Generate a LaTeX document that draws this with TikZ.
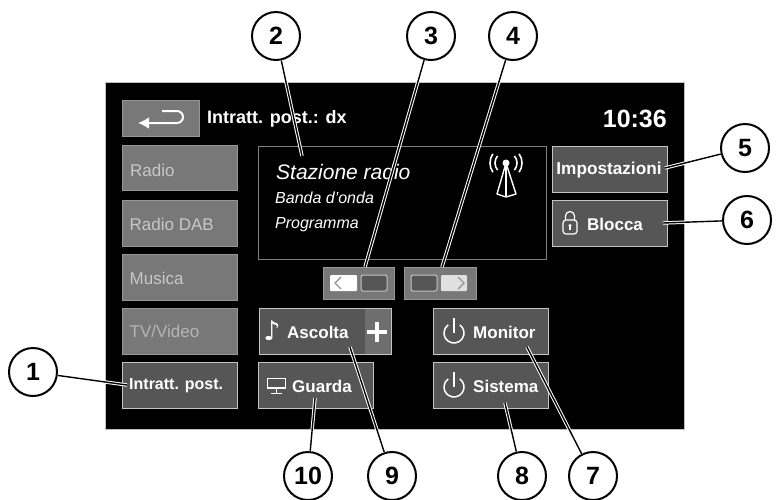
\documentclass[tikz,border=0pt]{standalone}
\usetikzlibrary{arrows.meta}
\usepackage{fontspec}
\setmainfont{Liberation Sans}
\newfontfamily\dejavu{DejaVu Sans}
\definecolor{dimbtn}{HTML}{787878}
\definecolor{dimedge}{HTML}{979797}
\definecolor{activebtn}{HTML}{565656}
\definecolor{activeedge}{HTML}{C4C4C4}
\definecolor{dimtext}{HTML}{C8C8C8}
\newcommand{\fs}[1]{\fontsize{#1}{#1}\selectfont}
\tikzset{
  dimbox/.style={draw=dimedge,fill=dimbtn,line width=1pt,inner sep=0pt,outer sep=0pt},
  activebox/.style={draw=activeedge,fill=activebtn,line width=1pt,inner sep=0pt,outer sep=0pt},
  dimlabel/.style={anchor=west,inner sep=0pt,text=dimtext,font=\fs{17}},
  boldlabel/.style={anchor=west,inner sep=0pt,text=white,font=\fs{17}\bfseries},
  infolabel/.style={anchor=west,inner sep=0pt,text=white,font=\fs{16}\itshape},
  iconline/.style={draw=white,line width=1.2pt},
  leader/.style={draw=white,line width=1pt,double=black,double distance=1.4pt},
  callout/.style={circle,draw=black,fill=white,line width=2pt,minimum size=48pt,inner sep=0pt,font=\fs{25}\bfseries,text=black}
}
\newcommand{\btn}[6]{\node[#6,minimum width=#4pt-#2pt,minimum height=#5pt-#3pt] (#1) at ({(#2+#4)/2},{(#3+#5)/2}) {};}
\begin{document}
\begin{tikzpicture}[x=1pt,y=-1pt]
\useasboundingbox (0,0) rectangle (776,499);
\fill[white] (0,0) rectangle (776,499);
\node[draw=black!25,fill=black,line width=.8pt,inner sep=0pt,outer sep=0pt,minimum width=579pt,minimum height=347pt] (panel) at (394.5,255.5) {};
% top bar
\btn{back}{122}{100}{199}{136}{dimbox}
\draw[iconline,line width=2pt,-{Latex[length=11pt,width=12pt]}] (162,111) -- (177,111) arc[start angle=90,end angle=-90,radius=6pt] -- (138,123);
\node[anchor=west,inner sep=0pt,text=white,font=\fs{18}\bfseries] (title) at (207,118.5) {Intratt. post.: dx};
\node[anchor=east,inner sep=0pt,text=white,font=\fs{25}\bfseries] (clock) at (667,118.5) {10:36};
% left column
\btn{radio}{122}{145}{237}{190}{dimbox}
\btn{dab}{122}{200}{237}{246}{dimbox}
\btn{musica}{122}{254}{237}{300}{dimbox}
\btn{tv}{122}{308}{237}{354}{dimbox}
\btn{intratt}{122}{362}{237}{408}{activebox}
\node[dimlabel] (radiot) at (130,170.5) {Radio};
\node[dimlabel] (dabt) at (129.5,224) {Radio DAB};
\node[dimlabel] (musicat) at (129.5,278) {Musica};
\node[dimlabel,text=dimtext!90!black] (tvt) at (129.5,331.5) {TV/Video};
\node[anchor=west,inner sep=0pt,text=white,font=\fs{16}\bfseries] (intrattt) at (129,386) {Intratt. post.};
% display
\node[draw=dimedge!85!black,line width=.9pt,inner sep=0pt,outer sep=0pt,minimum width=288pt,minimum height=113pt] (display) at (402,202.5) {};
\node[anchor=west,inner sep=0pt,text=white,font=\fs{21}\itshape] (station) at (276,172) {Stazione radio};
\node[infolabel] (banda) at (275,198) {Banda d'onda};
\node[infolabel] (prog) at (275,224.5) {Programma};
% antenna
\fill[white] (506,163) circle (3.5pt);
\draw[iconline,line width=1.4pt,line join=round] (506,163) -- (497,194) -- (506,197) -- (516,194) -- cycle;
\draw[iconline,line width=1.2pt] (506,163) -- (506,197);
\draw[iconline,line width=1.6pt] ({506-11*cos(40)},{163-11*sin(40)}) arc[start angle=140,end angle=220,radius=11pt];
\draw[iconline,line width=1.6pt] ({506+11*cos(40)},{163-11*sin(40)}) arc[start angle=40,end angle=-40,radius=11pt];
\draw[iconline,line width=1.6pt] ({506-16*cos(35)},{163-16*sin(35)}) arc[start angle=145,end angle=215,radius=16pt];
\draw[iconline,line width=1.6pt] ({506+16*cos(35)},{163-16*sin(35)}) arc[start angle=35,end angle=-35,radius=16pt];
% right buttons
\btn{impost}{552}{146}{667}{192}{activebox}
\btn{blocca}{552}{200}{667}{246}{activebox}
\node[anchor=center,inner sep=0pt,text=white,font=\fs{17.2}\bfseries] (impostt) at (609,170) {Impostazioni};
\node[boldlabel] (bloccat) at (587,224.5) {Blocca};
\draw[iconline,line width=1.2pt,rounded corners=3pt] (563,220) rectangle (577,234);
\draw[iconline,line width=1.2pt] (565.5,220) -- (565.5,216) arc[start angle=180,end angle=0,radius=4.5pt] -- (574.5,220);
\fill[white] (570,225.5) circle (1.7pt);
\draw[iconline,line width=1.2pt] (570,225.5) -- (570,230);
% scroll buttons
\btn{prev}{323}{267}{394}{299}{dimbox}
\btn{next}{404}{267}{476}{299}{dimbox}
\fill[white,rounded corners=1pt] (330,275) rectangle (357,291);
\draw[dimedge,line width=1.4pt] (341,277) -- (335,283) -- (341,289);
\draw[draw=activeedge,fill=activebtn,line width=1pt,rounded corners=2pt] (361,275) rectangle (387,291);
\draw[draw=activeedge,fill=activebtn,line width=1pt,rounded corners=2pt] (411,275) rectangle (437,291);
\fill[black!12,rounded corners=1pt] (441,275) rectangle (467,291);
\draw[dimedge,line width=1.4pt] (458,277) -- (464,283) -- (458,289);
% centre buttons
\btn{ascolta}{259}{308}{391}{354}{activebox}
\fill[dimbtn!70!activebtn] (365,308.5) rectangle (390.5,353.5);
\draw[white,line width=3.4pt] (367,332) -- (387,332) (377,322) -- (377,342);
\btn{guarda}{258}{362}{373}{408}{activebox}
\btn{monitor}{433}{308}{548}{354}{activebox}
\btn{sistema}{433}{362}{548}{408}{activebox}
\node[anchor=center,inner sep=0pt,text=white,font=\dejavu\fs{27}] (note) at (272,331) {♪};
\node[boldlabel] (ascoltat) at (287,332) {Ascolta};
\draw[iconline,line width=1.4pt] (267.5,378.5) rectangle (285.5,388);
\draw[iconline,line width=1.4pt] (276.5,388) -- (276.5,393) (271,393.5) -- (282,393.5);
\node[boldlabel] (guardat) at (292,386) {Guarda};
\draw[iconline,line width=1.5pt] ({454+10*cos(55)},{333-10*sin(55)}) arc[start angle=55,end angle=-235,radius=10pt];
\draw[iconline,line width=1.5pt] (454,318) -- (454,333);
\node[boldlabel] (monitort) at (473,332) {Monitor};
\draw[iconline,line width=1.5pt] ({454+10*cos(55)},{387-10*sin(55)}) arc[start angle=55,end angle=-235,radius=10pt];
\draw[iconline,line width=1.5pt] (454,372) -- (454,387);
\node[boldlabel] (sistemat) at (473,386) {Sistema};
% callouts
\node[callout] (c1) at (33,372) {1};
\node[callout] (c2) at (276,36) {2};
\node[callout] (c3) at (431,36) {3};
\node[callout] (c4) at (513,36) {4};
\node[callout] (c5) at (745,148) {5};
\node[callout] (c6) at (747,220) {6};
\node[callout] (c7) at (593,476) {7};
\node[callout] (c8) at (522,476) {8};
\node[callout] (c9) at (392,476) {9};
\node[callout] (c10) at (308,476) {10};
% connector ends
\coordinate (e1) at (127,385);
\coordinate (e2) at (302,156);
\coordinate (e3) at (365,267);
\coordinate (e4) at (442,267);
\coordinate (e5) at (665,168);
\coordinate (e6) at (663,223);
\coordinate (e7) at (527,347);
\coordinate (e8) at (505,403);
\coordinate (e9) at (350,347);
\coordinate (e10) at (315,398);
\foreach \i in {1,...,10} {\draw[leader] (c\i) -- (e\i);}
\end{tikzpicture}
\end{document}
